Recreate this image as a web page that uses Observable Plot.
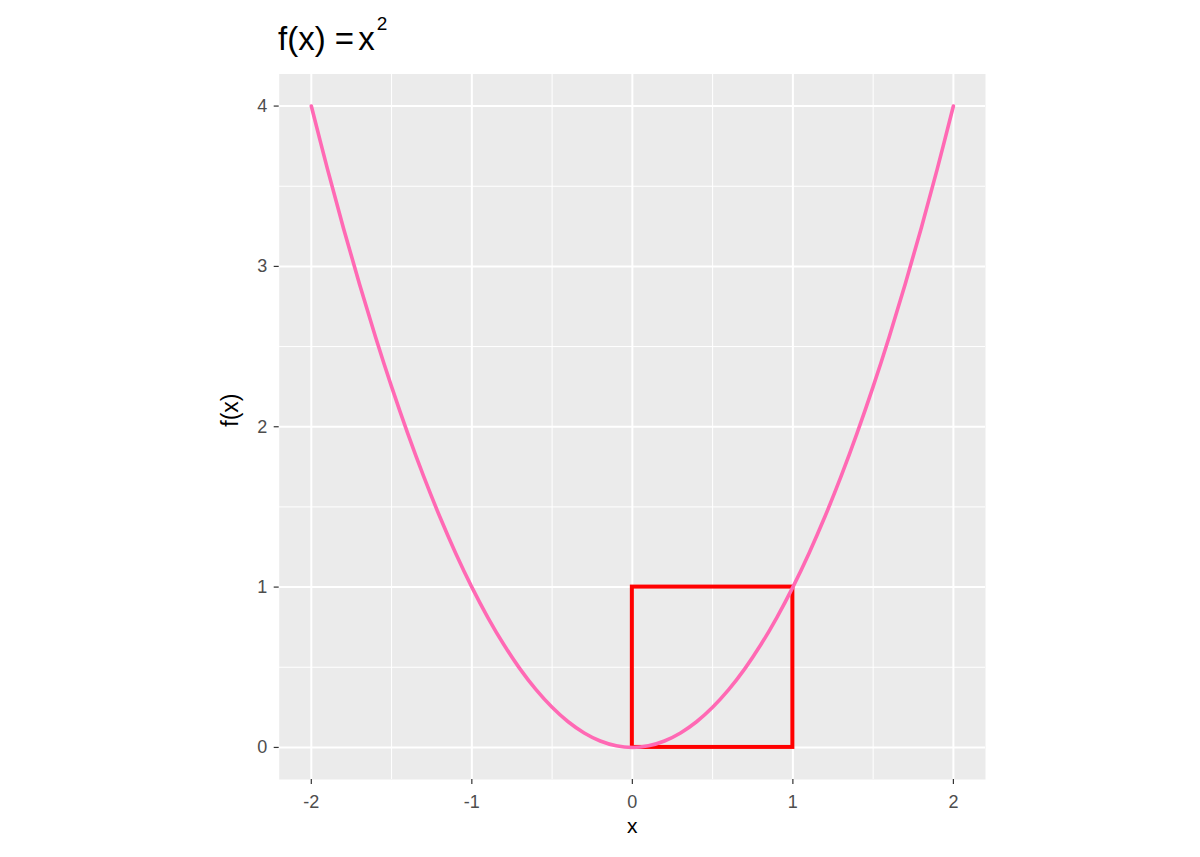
<!DOCTYPE html>
<html>
<head>
<meta charset="utf-8">
<script src="https://cdn.jsdelivr.net/npm/d3@7"></script>
<script src="https://cdn.jsdelivr.net/npm/@observablehq/plot@0.6"></script>
<style>
  html, body { margin: 0; padding: 0; background: #ffffff; }
  #wrap { width: 1200px; height: 857px; position: relative; overflow: hidden; }
  #title { position: relative; height: 64px; font-family: "Liberation Sans", Arial, sans-serif; }
  #title span.t { position: absolute; left: 278px; top: 21.6px; font-size: 33px; line-height: 1; color: #000; white-space: nowrap; }
  #title span.eq { word-spacing: -5px; }
  #title span.sup { font-size: 19px; position: relative; top: -19.5px; margin-left: 2px; }
</style>
</head>
<body>
<div id="wrap">
  <div id="title"><span class="t">f(x) <span class="eq">= x</span><span class="sup">2</span></span></div>
  <div id="chart"></div>
</div>
<script>
// Curve f(x) = x^2, values read at steps of 0.1
const curveX = [-2, -1.9, -1.8, -1.7, -1.6, -1.5, -1.4, -1.3, -1.2, -1.1, -1, -0.9, -0.8, -0.7, -0.6, -0.5, -0.4, -0.3, -0.2, -0.1,
  0, 0.1, 0.2, 0.3, 0.4, 0.5, 0.6, 0.7, 0.8, 0.9, 1, 1.1, 1.2, 1.3, 1.4, 1.5, 1.6, 1.7, 1.8, 1.9, 2];
const curveY = [4, 3.61, 3.24, 2.89, 2.56, 2.25, 1.96, 1.69, 1.44, 1.21, 1, 0.81, 0.64, 0.49, 0.36, 0.25, 0.16, 0.09, 0.04, 0.01,
  0, 0.01, 0.04, 0.09, 0.16, 0.25, 0.36, 0.49, 0.64, 0.81, 1, 1.21, 1.44, 1.69, 1.96, 2.25, 2.56, 2.89, 3.24, 3.61, 4];

// Highlighted unit square
const squareX1 = [0];
const squareX2 = [1];
const squareY1 = [0];
const squareY2 = [1];

// Axes
const xTicks = [-2, -1, 0, 1, 2];
const yTicks = [0, 1, 2, 3, 4];
const xMinor = [-1.5, -0.5, 0.5, 1.5];
const yMinor = [0.5, 1.5, 2.5, 3.5];
const xDomain = [-2.2, 2.2];
const yDomain = [-0.2, 4.2];
const xTitle = "x";
const yTitle = "f(x)";

const curve = curveX.map((x, i) => ({x, y: curveY[i]}));
const square = squareX1.map((x1, i) => ({x1, x2: squareX2[i], y1: squareY1[i], y2: squareY2[i]}));

const font = "'Liberation Sans', Arial, sans-serif";

const chart = Plot.plot({
  width: 1200,
  height: 793,
  marginLeft: 278.7,
  marginRight: 215,
  marginTop: 9.5,
  marginBottom: 78,
  style: {fontFamily: font, fontSize: "18px", background: "#ffffff", overflow: "visible"},
  x: {domain: xDomain, label: null},
  y: {domain: yDomain, label: null},
  marks: [
    Plot.frame({fill: "#EBEBEB", stroke: null}),
    Plot.ruleX(xMinor, {stroke: "#ffffff", strokeWidth: 1}),
    Plot.ruleY(yMinor, {stroke: "#ffffff", strokeWidth: 1}),
    Plot.ruleX(xTicks, {stroke: "#ffffff", strokeWidth: 2}),
    Plot.ruleY(yTicks, {stroke: "#ffffff", strokeWidth: 2}),
    Plot.axisX({ticks: xTicks, tickFormat: d => String(d), tickSize: 5, tickPadding: 11,
      fontSize: 18, stroke: "#333333", fill: "#4D4D4D", strokeWidth: 1.2, label: null}),
    Plot.axisY({ticks: yTicks, tickFormat: d => String(d), tickSize: 5, tickPadding: 7,
      fontSize: 18, stroke: "#333333", fill: "#4D4D4D", strokeWidth: 1.2, label: null}),
    Plot.rect(square, {x1: "x1", x2: "x2", y1: "y1", y2: "y2", fill: "none", stroke: "#FF0000", strokeWidth: 4, strokeLinejoin: "miter"}),
    Plot.line(curve, {x: "x", y: "y", stroke: "#FF69B4", strokeWidth: 3.6, curve: "catmull-rom"}),
    Plot.text([xTitle], {text: d => d, frameAnchor: "bottom", dy: 53.5, fontSize: 21, fill: "#000000"}),
    Plot.text([yTitle], {text: d => d, frameAnchor: "left", dx: -49, rotate: -90, fontSize: 23, fill: "#000000"})
  ]
});
document.getElementById("chart").appendChild(chart);
</script>
</body>
</html>
